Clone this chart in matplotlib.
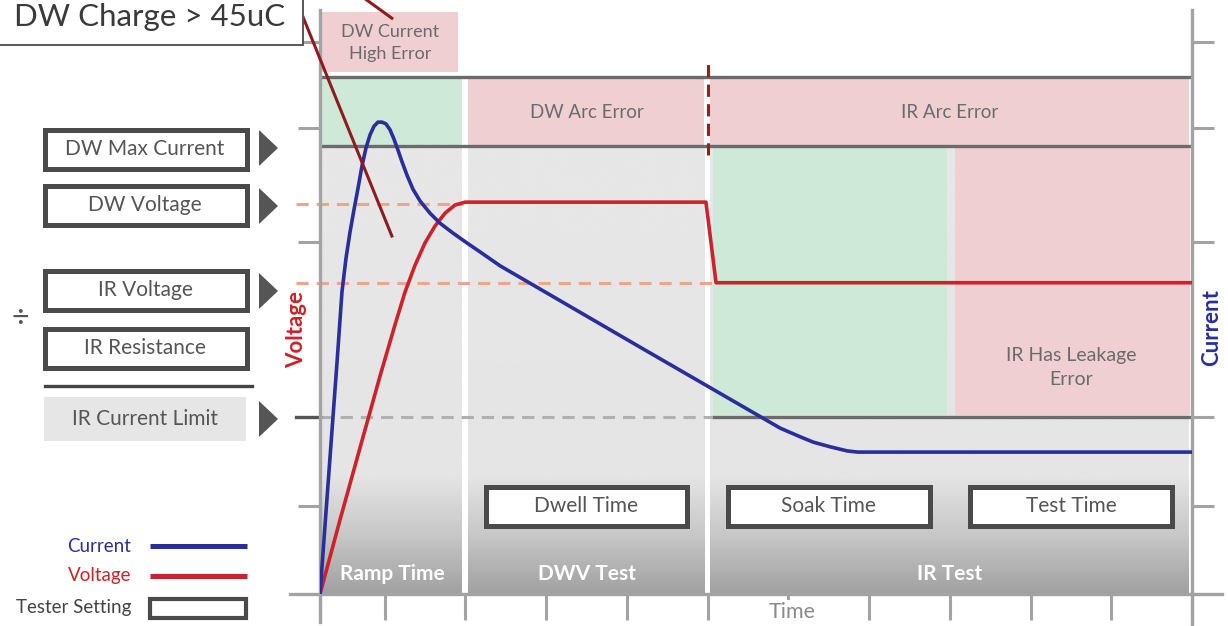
import numpy as np
import matplotlib.pyplot as plt
from matplotlib.patches import Rectangle, Polygon

plt.rcParams['font.family'] = ['Lato', 'DejaVu Sans']

# time axis in arbitrary units, level axis 0-100 (schematic)
time_ticks = [0, 0.8, 1.8, 2.8, 3.8, 4.8, 5.8, 6.8, 7.8, 8.8, 9.8, 10.8]
level_ticks = [15.1, 30.3, 60.3, 79.8, 94.5]

phase_names = ['Ramp Time', 'DWV Test', 'IR Test']
phase_start = [0.0, 1.8, 4.8]
phase_end = [1.8, 4.8, 10.8]

setting_names = ['Dwell Time', 'Soak Time', 'Test Time']
setting_start = [1.8, 4.8, 7.8]
setting_end = [4.8, 7.8, 10.8]

# limits
dw_current_high = 88.5
dw_max_current = 76.7
dw_voltage = 66.8
ir_voltage = 53.3
ir_current_limit = 30.3

volt_t = [0, 0.248, 0.495, 0.743, 0.929, 1.053, 1.177, 1.30, 1.424, 1.548,
          1.672, 1.796, 4.78, 4.905, 10.8]
volt_v = [0, 12.7, 25.0, 37.3, 46.1, 51.7, 56.3, 60.1, 63.0, 65.2,
          66.6, 67.1, 67.1, 53.3, 53.3]

curr_t = [0, 0.074, 0.149, 0.211, 0.272, 0.322, 0.372, 0.421, 0.471, 0.520,
          0.570, 0.619, 0.669, 0.718, 0.768, 0.817, 0.867, 0.916, 0.966, 1.016,
          1.078, 1.152, 1.239, 1.363, 1.486, 1.647, 1.821, 1.98, 2.23, 3.96,
          5.70, 5.95, 6.11, 6.32, 6.53, 6.66, 10.8]
curr_v = [0, 14.0, 28.1, 39.7, 51.7, 57.5, 62.0, 65.8, 69.5, 73.3,
          76.4, 78.6, 80.1, 80.8, 80.8, 80.5, 79.5, 77.9, 76.0, 74.0,
          71.7, 69.3, 67.3, 65.2, 63.5, 61.8, 60.1, 58.6, 56.2, 42.3,
          28.4, 26.9, 26.0, 25.2, 24.5, 24.3, 24.3]

left_labels = ['DW Max Current', 'DW Voltage', 'IR Voltage', 'IR Resistance', 'IR Current Limit']
left_tops = [127, 183, 268, 326, 397]
arrow_y = [148, 206, 291, 419]

PINK = '#f0cfd3'
GREEN = '#cfe9d8'
DARK = '#6b6b6b'
AXGREY = '#a3a3a3'
RED = '#cc2229'
BLUE = '#2a2d9c'
TXT = '#6b6b6b'
BOXEC = '#4a4a4a'

fig = plt.figure(figsize=(12.28, 6.26), dpi=100)
ax = fig.add_axes([320 / 1228, 32 / 626, 872 / 1228, 584 / 626])

# grey phase columns with gradient at the bottom
shade = np.interp(np.linspace(0, 76.4, 256), [0, 10, 20, 77], [0.63, 0.78, 0.895, 0.905])
grad = np.repeat(shade[:, None], 2, axis=1)
for a, b in zip(phase_start, phase_end):
    ax.imshow(grad, extent=(a + 0.03, b - 0.04, 0, 76.4), origin='lower', aspect='auto',
              cmap='gray', vmin=0, vmax=1, interpolation='bilinear', zorder=0)

# error / ok bands
ax.add_patch(Rectangle((0.03, 89.3), 1.68, 10.4, fc=PINK, ec='none', zorder=1))
for a, b, c in zip(phase_start, phase_end, [GREEN, PINK, PINK]):
    ax.add_patch(Rectangle((a + 0.03, dw_max_current), b - a - 0.07, dw_current_high - dw_max_current,
                           fc=c, ec='none', zorder=1))
ax.add_patch(Rectangle((4.87, ir_current_limit + 0.4), 2.89, dw_max_current - ir_current_limit - 0.8,
                       fc=GREEN, ec='none', zorder=1))
ax.add_patch(Rectangle((7.86, ir_current_limit + 0.4), 2.92, dw_max_current - ir_current_limit - 0.8,
                       fc=PINK, ec='none', zorder=1))

# limit lines
ax.hlines([dw_current_high, dw_max_current], 0, 10.8, color=DARK, lw=2.4, zorder=2)
ax.hlines(ir_current_limit, 4.85, 10.8, color=DARK, lw=2.4, zorder=2)
ax.plot([-0.3, 1.77], [dw_voltage] * 2, color='#eaa78d', lw=2.2, ls=(0, (4, 2.6)), clip_on=False, zorder=2)
ax.plot([-0.3, 4.9], [ir_voltage] * 2, color='#eaa78d', lw=2.2, ls=(0, (4, 2.6)), clip_on=False, zorder=2)
ax.plot([0, 4.85], [ir_current_limit] * 2, color='#b0b0b0', lw=2.2, ls=(0, (4, 2.6)), zorder=2)
ax.plot([-0.3, 0], [ir_current_limit] * 2, color='#555555', lw=2.4, clip_on=False, zorder=2)
ax.plot([4.8, 4.8], [75.2, 91.1], color='#9b1c22', lw=2.2, ls=(0, (4, 2.4)), zorder=3)

# axes lines
ax.plot([0, 0], [100, -4.8], color=AXGREY, lw=2.4, clip_on=False, zorder=3)
ax.plot([10.8, 10.8], [100, -5.5], color=AXGREY, lw=2.4, clip_on=False, zorder=3)
ax.plot([-0.37, 11.17], [0, 0], color=AXGREY, lw=2.4, clip_on=False, zorder=3)

# curves
ax.plot(volt_t, volt_v, color=RED, lw=2.6, solid_joinstyle='round', zorder=4)
ax.plot(curr_t, curr_v, color=BLUE, lw=2.6, solid_joinstyle='round', zorder=4)

# leader lines to the charge note
ax.plot([-0.21, 0.89], [98.8, 61.3], color='#8e1b1f', lw=2.2, clip_on=False, zorder=6)
ax.plot([0.45, 0.89], [103, 98.6], color='#8e1b1f', lw=2.2, clip_on=False, zorder=6)

# band texts
ax.text(0.87, 94.3, 'DW Current\nHigh Error', ha='center', va='center', fontsize=13,
        color=TXT, linespacing=1.45, zorder=5)
ax.text(3.3, 82.4, 'DW Arc Error', ha='center', va='center', fontsize=13.5, color=TXT, zorder=5)
ax.text(7.8, 82.4, 'IR Arc Error', ha='center', va='center', fontsize=13.5, color=TXT, zorder=5)
ax.text(9.3, 38.8, 'IR Has Leakage\nError', ha='center', va='center', fontsize=14,
        color=TXT, linespacing=1.5, zorder=5)

# tester setting boxes
for name, a, b in zip(setting_names, setting_start, setting_end):
    m = (a + b) / 2
    ax.add_patch(Rectangle((m - 1.25, 11.7), 2.5, 6.6, fc='white', ec=BOXEC, lw=3.6, zorder=5))
    ax.text(m, 15.0, name, ha='center', va='center', fontsize=15, color='#555555', zorder=6)

for name, a, b in zip(phase_names, phase_start, phase_end):
    ax.text((a + b) / 2, 3.4, name, ha='center', va='center', fontsize=15,
            fontweight='bold', color='white', zorder=5)

ax.text(5.85, -3.0, 'Time', ha='center', va='center', fontsize=15.5, color='#8a8a8a', zorder=6,
        bbox=dict(fc='white', ec='none', pad=1))

ax.set_xlim(0, 10.8)
ax.set_ylim(0, 100)
for s in ax.spines.values():
    s.set_visible(False)
ax.set_xticks(time_ticks)
ax.set_yticks(level_ticks)
ax.tick_params(axis='x', direction='out', length=19, width=2.2, color=AXGREY, labelbottom=False)
ax.tick_params(axis='y', direction='out', length=16, width=2.2, color=AXGREY, labelleft=False, right=True)
ax.patch.set_alpha(0)

# overlay in figure pixels for the side panel
ov = fig.add_axes([0, 0, 1, 1], zorder=5)
ov.set_xlim(0, 1228)
ov.set_ylim(626, 0)
ov.axis('off')
ov.patch.set_alpha(0)

ov.add_patch(Rectangle((-10, -10), 313, 55, fc='white', ec='#555555', lw=1.4))
ov.text(285, 17, 'DW Charge > 45uC', ha='right', va='center', fontsize=22.5, color='#3a3a3a')

for name, top in zip(left_labels, left_tops):
    if name == 'IR Current Limit':
        ov.add_patch(Rectangle((44, top), 202, 44, fc='#e6e6e6', ec='none'))
    else:
        ov.add_patch(Rectangle((44.5, top + 2.5), 202, 39, fc='white', ec=BOXEC, lw=3.6))
    ov.text(145, top + 22, name, ha='center', va='center', fontsize=15, color='#555555')
for y in arrow_y:
    ov.add_patch(Polygon([(259, y - 18), (278, y), (259, y + 18)], closed=True, fc='#555555', ec='none'))
ov.plot([45, 252], [386, 386], color='#444444', lw=2.4)
ov.text(20, 318, '÷', ha='center', va='center', fontsize=22, color='#555555')

ov.text(297, 330, 'Voltage', rotation=90, ha='center', va='center', fontsize=16,
        fontweight='bold', color=RED)
ov.text(1212, 328, 'Current', rotation=90, ha='center', va='center', fontsize=16,
        fontweight='bold', color=BLUE)

# legend
ov.text(131, 546, 'Current', ha='right', va='center', fontsize=13.5, color=BLUE)
ov.plot([150, 247], [546, 546], color=BLUE, lw=3.6, solid_capstyle='butt')
ov.text(131, 576, 'Voltage', ha='right', va='center', fontsize=13.5, color=RED)
ov.plot([150, 247], [576, 576], color=RED, lw=3.6, solid_capstyle='butt')
ov.text(131, 608, 'Tester Setting', ha='right', va='center', fontsize=13.5, color='#444444')
ov.add_patch(Rectangle((150, 599), 96, 19, fc='white', ec=BOXEC, lw=3))

fig.savefig('out.png', dpi=100)
